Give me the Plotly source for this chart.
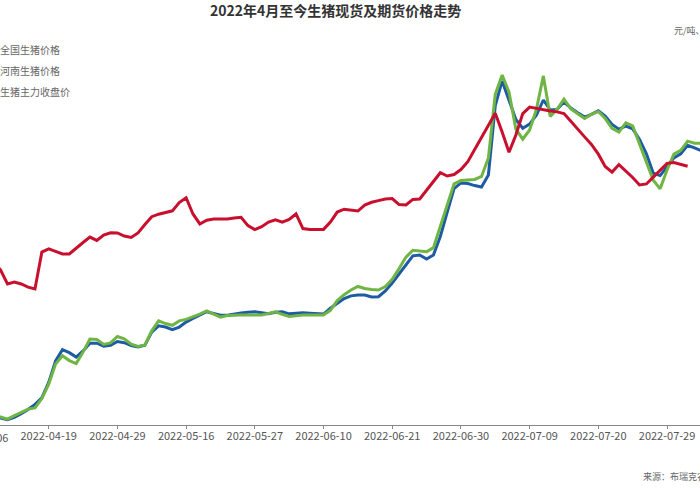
import plotly.graph_objects as go

# 2022年4月至今 生猪现货(元/公斤)及期货主力(元/吨)价格，按交易序号排列
tick_idx = [0, 10, 20, 30, 40, 50, 60, 70, 80, 90, 100]
tick_labels = ["2022-04-06", "2022-04-19", "2022-04-29", "2022-05-16", "2022-05-27",
               "2022-06-10", "2022-06-21", "2022-06-30", "2022-07-09", "2022-07-20",
               "2022-07-29"]

national = [12.48, 12.41, 12.32, 12.24, 12.18, 12.26, 12.38, 12.53, 12.70, 12.92,
            13.45, 14.18, 14.56, 14.46, 14.31, 14.52, 14.78, 14.78, 14.68, 14.71,
            14.84, 14.80, 14.70, 14.65, 14.71, 15.16, 15.37, 15.33, 15.24, 15.33,
            15.50, 15.62, 15.74, 15.85, 15.79, 15.73, 15.73, 15.78, 15.81, 15.83,
            15.85, 15.82, 15.78, 15.83, 15.85, 15.78, 15.79, 15.82, 15.80, 15.79,
            15.77, 15.97, 16.15, 16.30, 16.39, 16.42, 16.42, 16.35, 16.36, 16.56,
            16.83, 17.14, 17.47, 17.75, 17.78, 17.64, 17.78, 18.41, 19.23, 20.04,
            20.23, 20.21, 20.14, 20.09, 20.50, 22.86, 23.70, 23.07, 22.39, 22.09,
            22.23, 22.54, 23.05, 22.71, 22.73, 22.98, 22.78, 22.62, 22.47, 22.56,
            22.68, 22.50, 22.22, 22.06, 22.16, 22.07, 21.71, 21.22, 20.56, 20.48,
            20.76, 21.08, 21.22, 21.51, 21.42, 21.33]

henan = [12.51, 12.44, 12.36, 12.27, 12.20, 12.32, 12.42, 12.54, 12.58, 12.90,
         13.39, 14.07, 14.35, 14.19, 14.09, 14.48, 14.92, 14.91, 14.74, 14.79,
         15.01, 14.93, 14.75, 14.67, 14.72, 15.20, 15.54, 15.45, 15.39, 15.54,
         15.59, 15.67, 15.77, 15.88, 15.77, 15.67, 15.72, 15.74, 15.74, 15.74,
         15.74, 15.74, 15.79, 15.85, 15.76, 15.69, 15.71, 15.74, 15.74, 15.74,
         15.74, 15.90, 16.23, 16.43, 16.59, 16.71, 16.64, 16.61, 16.59, 16.71,
         16.95, 17.32, 17.71, 17.94, 17.92, 17.89, 18.03, 18.75, 19.48, 20.20,
         20.31, 20.32, 20.35, 20.45, 21.08, 23.24, 23.90, 23.32, 22.06, 21.72,
         22.03, 22.74, 23.87, 22.49, 22.73, 23.08, 22.75, 22.58, 22.42, 22.56,
         22.66, 22.42, 22.09, 21.96, 22.27, 22.17, 21.55, 20.93, 20.32, 20.03,
         20.67, 21.21, 21.34, 21.65, 21.58, 21.58]

futures = [17400, 17110, 16820, 16440, 15770, 15860, 15770, 15620, 15530, 17300,
           17450, 17330, 17210, 17210, 17500, 17760, 18020, 17860, 18120, 18230,
           18220, 18070, 18000, 18220, 18620, 19000, 19120, 19210, 19280, 19680,
           19910, 19130, 18650, 18830, 18890, 18890, 18890, 18940, 18970, 18570,
           18380, 18520, 18740, 18850, 18740, 18870, 19130, 18430, 18390, 18390,
           18390, 18740, 19220, 19360, 19300, 19270, 19560, 19690, 19770, 19850,
           19870, 19580, 19560, 19830, 19850, 20260, 20700, 21110, 20950, 21020,
           21260, 21640, 22220, 22810, 23400, 23960, 23060, 22090, 22920, 23950,
           24260, 24190, 24120, 24070, 24030, 23950, 23580, 23190, 22830, 22470,
           22000, 21410, 21140, 21500, 21190, 20880, 20520, 20570, 20900, 21240,
           21560, 21600, 21510, 21420, None, None]

x = list(range(len(national)))

fig = go.Figure()
fig.add_trace(go.Scatter(x=x, y=national, name="全国生猪价格", mode="lines",
                         line=dict(color="#1d5ba4", width=3), legendgroup="a"))
fig.add_trace(go.Scatter(x=x, y=henan, name="河南生猪价格", mode="lines",
                         line=dict(color="#6fb544", width=3), legendgroup="b"))
fig.add_trace(go.Scatter(x=x, y=futures, name="生猪主力收盘价", mode="lines",
                         line=dict(color="#c8102e", width=3), yaxis="y2", legendgroup="c"))

fig.update_layout(
    width=700, height=490,
    margin=dict(l=0, r=0, t=50, b=65, autoexpand=False),
    plot_bgcolor="white", paper_bgcolor="white",
    font=dict(family="Noto Sans CJK SC", color="#555"),
    showlegend=True,
    legend=dict(x=-0.057, y=1.039, xanchor="left", yanchor="top",
                font=dict(size=10, color="#666"), tracegroupgap=2,
                bgcolor="rgba(0,0,0,0)"),
    xaxis=dict(range=[2.91, 104.8], tickvals=tick_idx, ticktext=tick_labels,
               showgrid=False, zeroline=False, showline=True, linecolor="#888",
               linewidth=1, ticks="outside", ticklen=3, tickcolor="#888",
               ticklabelstandoff=-2, tickfont=dict(size=11, color="#555")),
    yaxis=dict(range=[12, 24.75], showgrid=False, zeroline=False,
               showticklabels=False, showline=False),
    yaxis2=dict(range=[9000, 27000], overlaying="y", side="right", showgrid=False,
                zeroline=False, showticklabels=False, showline=False),
    annotations=[
        dict(text="<b>2022年4月至今生猪现货及期货价格走势</b>", xref="paper", yref="paper",
             x=335 / 700, y=1.107, xanchor="center", yanchor="middle", showarrow=False,
             font=dict(size=14, color="#333")),
        dict(text="元/吨、元/公斤", xref="paper", yref="paper", x=672 / 700, y=1.053,
             xanchor="left", yanchor="middle", showarrow=False,
             font=dict(size=9, color="#666")),
        dict(text="2022-04-06", xref="paper", yref="paper", x=-20 / 700, y=-0.006,
             xanchor="center", yanchor="top", showarrow=False,
             font=dict(size=11, color="#555")),
        dict(text="来源：布瑞克农业数据", xref="paper", yref="paper", x=641 / 700, y=-0.136,
             xanchor="left", yanchor="middle", showarrow=False,
             font=dict(size=9, color="#666")),
    ],
)

# 去掉页面默认边距，让图表贴齐窗口左上角
fig.write_html("out.html", config={"displayModeBar": False},
               post_script="document.body.style.margin='0';")
